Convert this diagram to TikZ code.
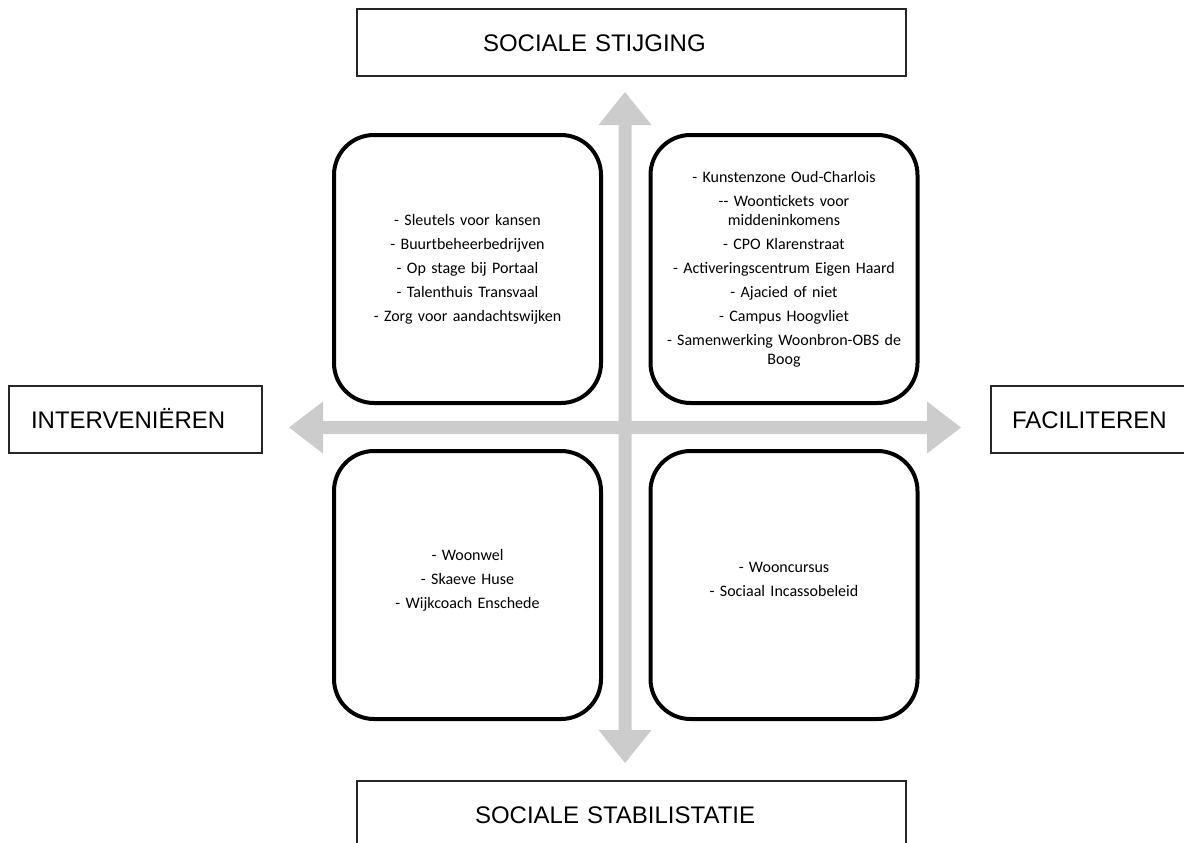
\documentclass[tikz,border=0pt]{standalone}
\usepackage{fontspec}
\setmainfont{Liberation Sans}
\newfontfamily\calibri{Carlito}
\begin{document}
\begin{tikzpicture}[x=1pt,y=-1pt,
  quad/.style={draw=black, line width=4pt, rounded corners=40pt, fill=white,
    minimum width=267pt, minimum height=268pt, inner sep=0pt,
    text width=250pt, align=center,
    font=\calibri\fontsize{16}{19}\selectfont},
  qtext/.style={inner sep=0pt, text width=250pt, align=center,
    font=\calibri\fontsize{16}{19}\selectfont},
  lbl/.style={draw=black!85, line width=1.3pt, fill=white, inner ysep=0pt,
    minimum height=67pt, text height=19.2pt, text depth=2pt,
    align=left, font=\fontsize{24}{28}\selectfont},
  axis/.style={fill=black!20, draw=none}]
\useasboundingbox (0,0) rectangle (1184,843);
\clip (0,0) rectangle (1184,843);

% axes (double-headed arrows)
\fill[axis] (625,92) -- (651.5,125) -- (631.5,125) -- (631.5,730) -- (651.5,730)
  -- (625,763) -- (598.5,730) -- (618.5,730) -- (618.5,125) -- (598.5,125) -- cycle;
\fill[axis] (289,427.5) -- (323,401.5) -- (323,421) -- (927,421) -- (927,401.5)
  -- (961,427.5) -- (927,453.5) -- (927,434) -- (323,434) -- (323,453.5) -- cycle;

% quadrants
\node[quad] (tl) at (467.5,269) {- Sleutels voor kansen\\[5pt]
  - Buurtbeheerbedrijven\\[5pt]
  - Op stage bij Portaal\\[5pt]
  - Talenthuis Transvaal\\[5pt]
  - Zorg voor aandachtswijken};
\node[quad] (tr) at (784,269) {- Kunstenzone Oud-Charlois\\[5pt]
  -{}- Woontickets voor\\ middeninkomens\\[5pt]
  - CPO Klarenstraat\\[5pt]
  - Activeringscentrum Eigen Haard\\[5pt]
  - Ajacied of niet\\[5pt]
  - Campus Hoogvliet\\[5pt]
  - Samenwerking Woonbron-OBS de\\ Boog};
\node[quad] (bl) at (467.5,585) {};
\node[qtext] (bltext) at ([yshift=5pt]bl.center) {- Woonwel\\[5pt]
  - Skaeve Huse\\[5pt]
  - Wijkcoach Enschede};
\node[quad] (br) at (784,585) {};
\node[qtext] (brtext) at ([yshift=6pt]br.center) {- Wooncursus\\[5pt]
  - Sociaal Incassobeleid};

% axis labels
\node[lbl, inner xsep=126pt, text width=297pt] (up) at (631.5,42.5) {SOCIALE STIJGING};
\node[lbl, inner xsep=118pt, text width=313pt] (down) at (631.5,814.5) {SOCIALE STABILISTATIE};
\node[lbl, inner xsep=22pt, text width=209pt] (left) at (135.5,419.5) {INTERVENIËREN};
\node[lbl, inner xsep=21pt, text width=211pt] (right) at (1117.5,419.5) {FACILITEREN};
\end{tikzpicture}
\end{document}
